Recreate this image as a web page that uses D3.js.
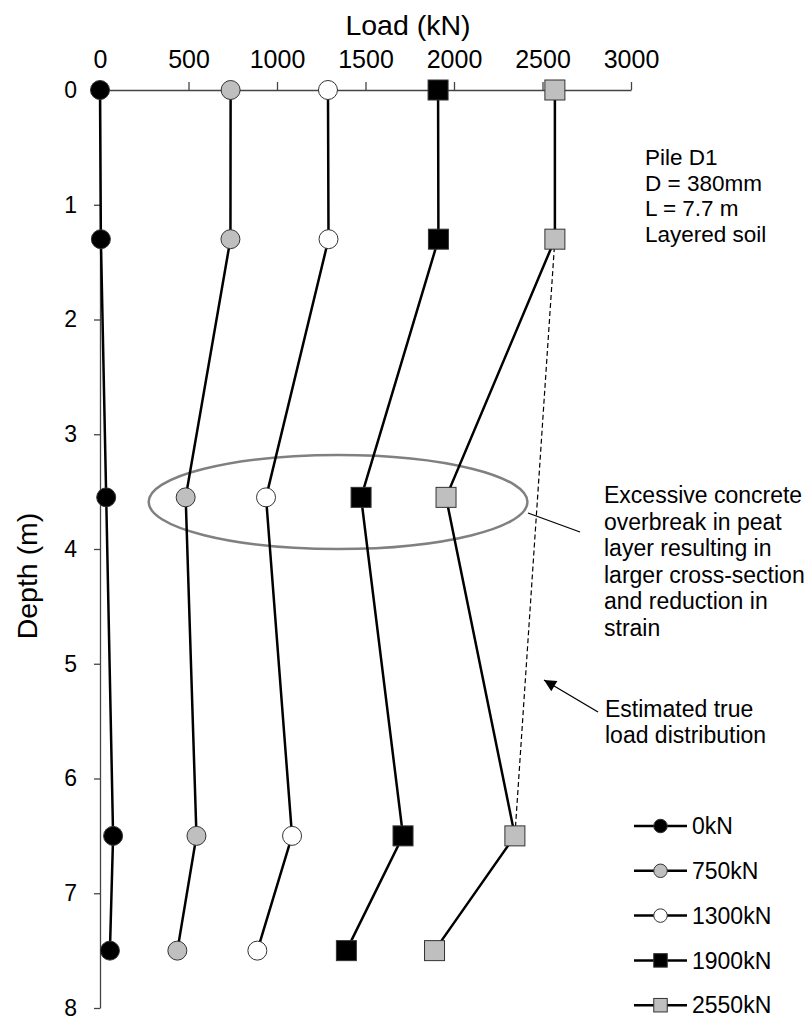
<!DOCTYPE html>
<html>
<head>
<meta charset="utf-8">
<script src="https://cdn.jsdelivr.net/npm/d3@7"></script>
<style>
  body { margin: 0; background: #fff; }
  svg { font-family: "Liberation Sans", Arial, sans-serif; }
</style>
</head>
<body>
<div id="chart"></div>
<script>
// depths of the strain gauge levels (m)
const depths = [0, 1.3, 3.55, 6.5, 7.5];

// load at each depth for every applied head load (kN)
const load0kN    = [0, 5, 35, 74, 56];
const load750kN  = [738, 737, 484, 545, 437];
const load1300kN = [1288, 1291, 938, 1085, 889];
const load1900kN = [1910, 1912, 1475, 1712, 1392];
const load2550kN = [2570, 2570, 1955, 2344, 1890];

const seriesNames = ['0kN', '750kN', '1300kN', '1900kN', '2550kN'];

// estimated true load distribution (dashed)
const estDepths = [1.3, 6.5];
const estLoads = [2570, 2344];

const xTicks = [0, 500, 1000, 1500, 2000, 2500, 3000];
const yTicks = [0, 1, 2, 3, 4, 5, 6, 7, 8];

const pileInfo = ['Pile D1', 'D = 380mm', 'L = 7.7 m', 'Layered soil'];
const noteOverbreak = ['Excessive concrete', 'overbreak in peat', 'layer resulting in',
                       'larger cross-section', 'and reduction in', 'strain'];
const noteEstimated = ['Estimated true', 'load distribution'];

const w = 807, h = 1021;

const series = [load0kN, load750kN, load1300kN, load1900kN, load2550kN].map((vals, i) => ({
  name: seriesNames[i],
  points: vals.map((v, j) => ({ load: v, depth: depths[j] }))
}));

// marker styles per series
const markerShape = ['circle', 'circle', 'circle', 'square', 'square'];
const markerFill = ['#000', '#bfbfbf', '#fff', '#000', '#bfbfbf'];

const xScale = d3.scaleLinear().domain([0, 3000]).range([100, 631]);
const yScale = d3.scaleLinear().domain([0, 8]).range([90, 1008]);

const svg = d3.select('#chart').append('svg')
  .attr('width', w)
  .attr('height', h);

// axes
const xAxis = d3.axisTop(xScale).tickValues(xTicks).tickFormat(d3.format('d'))
  .tickSize(8).tickSizeOuter(0).tickPadding(14);
const yAxis = d3.axisLeft(yScale).tickValues(yTicks).tickFormat(d3.format('d'))
  .tickSize(6).tickSizeOuter(0).tickPadding(17);

const gx = svg.append('g')
  .attr('transform', `translate(0, ${yScale(0)})`)
  .call(xAxis);
gx.selectAll('text').attr('font-size', 25).attr('fill', '#000').attr('dy', 0);

const gy = svg.append('g')
  .attr('transform', `translate(${xScale(0)}, 0)`)
  .call(yAxis);
gy.selectAll('text').attr('font-size', 23).attr('fill', '#000');

svg.selectAll('.domain, .tick line').attr('stroke', '#444').attr('stroke-width', 1.3);

svg.append('text')
  .attr('x', 408).attr('y', 35)
  .attr('text-anchor', 'middle')
  .attr('font-size', 28.5)
  .text('Load (kN)');

svg.append('text')
  .attr('transform', 'translate(37, 576) rotate(-90)')
  .attr('text-anchor', 'middle')
  .attr('font-size', 28.5)
  .text('Depth (m)');

// ellipse around the peat layer readings
svg.append('ellipse')
  .attr('cx', xScale(1345))
  .attr('cy', yScale(3.59))
  .attr('rx', xScale(1070) - xScale(0))
  .attr('ry', yScale(0.41) - yScale(0))
  .attr('fill', 'none')
  .attr('stroke', '#808080')
  .attr('stroke-width', 2.5);

// estimated true distribution
svg.append('path')
  .datum(estDepths.map((d, i) => ({ depth: d, load: estLoads[i] })))
  .attr('d', d3.line().x(d => xScale(d.load)).y(d => yScale(d.depth)))
  .attr('fill', 'none')
  .attr('stroke', '#000')
  .attr('stroke-width', 1.2)
  .attr('stroke-dasharray', '5,3');

const line = d3.line().x(d => xScale(d.load)).y(d => yScale(d.depth));

function drawMarker(g, shape, fill, x, y, size) {
  if (shape === 'circle') {
    g.append('circle')
      .attr('cx', x).attr('cy', y).attr('r', size / 2)
      .attr('fill', fill).attr('stroke', '#333').attr('stroke-width', 1);
  } else {
    g.append('rect')
      .attr('x', x - size / 2).attr('y', y - size / 2)
      .attr('width', size).attr('height', size)
      .attr('fill', fill).attr('stroke', '#333').attr('stroke-width', 1);
  }
}

series.forEach((s, i) => {
  const g = svg.append('g');
  g.append('path')
    .datum(s.points)
    .attr('d', line)
    .attr('fill', 'none')
    .attr('stroke', '#000')
    .attr('stroke-width', 2.5);
  s.points.forEach(p => drawMarker(g, markerShape[i], markerFill[i], xScale(p.load), yScale(p.depth),
                                   markerShape[i] === 'circle' ? 19 : 20));
});

// pile info
const pile = svg.append('text').attr('font-size', 22.5);
pileInfo.forEach((t, i) => {
  pile.append('tspan').attr('x', 645).attr('y', 165 + i * 25.5).text(t);
});

// annotations
const note1 = svg.append('text').attr('font-size', 23);
noteOverbreak.forEach((t, i) => {
  note1.append('tspan').attr('x', 604).attr('y', 503 + i * 26.5).text(t);
});
svg.append('line')
  .attr('x1', 528).attr('y1', 513).attr('x2', 580).attr('y2', 532)
  .attr('stroke', '#000').attr('stroke-width', 1.3);

const note2 = svg.append('text').attr('font-size', 23);
noteEstimated.forEach((t, i) => {
  note2.append('tspan').attr('x', 605).attr('y', 717 + i * 26).text(t);
});

svg.append('defs').append('marker')
  .attr('id', 'arrow')
  .attr('viewBox', '0 0 10 10')
  .attr('refX', 10).attr('refY', 5)
  .attr('markerWidth', 14).attr('markerHeight', 12)
  .attr('markerUnits', 'userSpaceOnUse')
  .attr('orient', 'auto')
  .append('path')
  .attr('d', 'M0,0 L10,5 L0,10 z')
  .attr('fill', '#000');

svg.append('line')
  .attr('x1', 598).attr('y1', 712).attr('x2', 544).attr('y2', 680)
  .attr('stroke', '#000').attr('stroke-width', 1.3)
  .attr('marker-end', 'url(#arrow)');

// legend
const legend = svg.append('g');
seriesNames.forEach((name, i) => {
  const y = 826 + i * 44.8;
  legend.append('line')
    .attr('x1', 634).attr('x2', 687).attr('y1', y).attr('y2', y)
    .attr('stroke', '#000').attr('stroke-width', 2.5);
  drawMarker(legend, markerShape[i], markerFill[i], 660.5, y, 13.5);
  legend.append('text')
    .attr('x', 692).attr('y', y + 8.2)
    .attr('font-size', 23)
    .text(name);
});
</script>
</body>
</html>
